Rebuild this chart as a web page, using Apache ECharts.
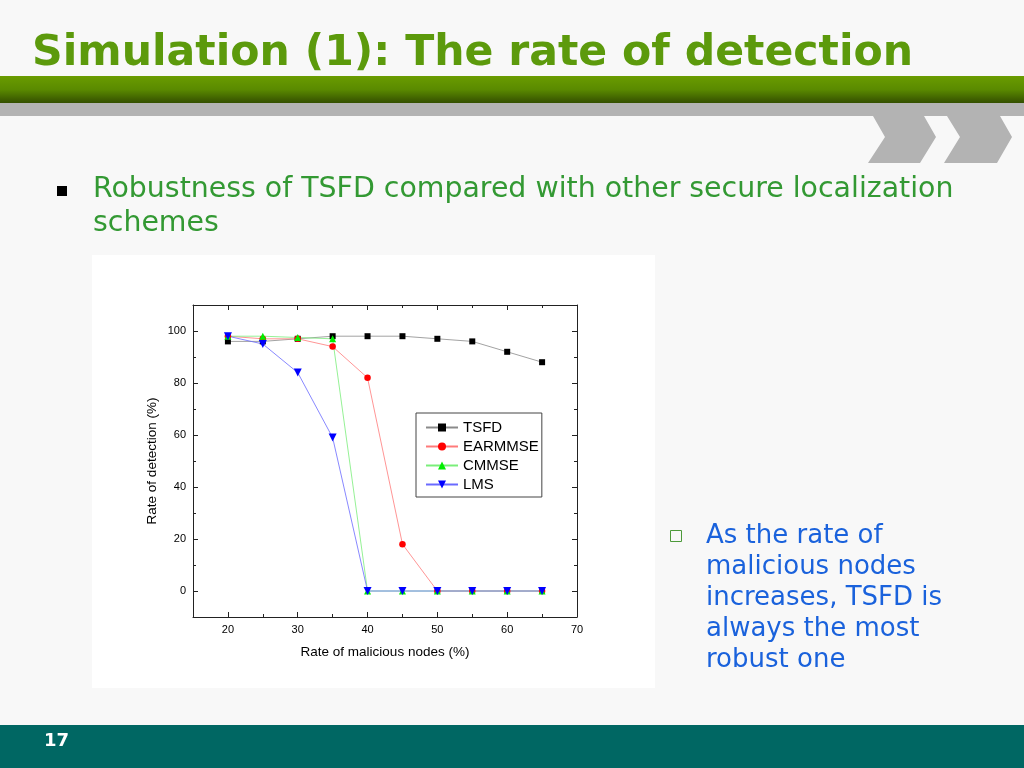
<!DOCTYPE html>
<html><head><meta charset="utf-8">
<script src="https://cdn.jsdelivr.net/npm/echarts@6/dist/echarts.min.js"></script>
<style>html,body{margin:0;padding:0;background:#f8f8f8;}#c{width:1024px;height:768px;}</style>
</head><body><div id="c"></div>
<script>
const xValues = [20, 25, 30, 35, 40, 45, 50, 55, 60, 65];
const tsfd    = [96, 96, 97, 98, 98, 98, 97, 96, 92, 88];
const earmmse = [98, 97, 97, 94, 82, 18, 0, 0, 0, 0];
const cmmse   = [98, 98, 97.5, 97, 0, 0, 0, 0, 0, 0];
const lms     = [98, 95, 84, 59, 0, 0, 0, 0, 0, 0];
const xMajor = [20, 30, 40, 50, 60, 70];
const xMinor = [25, 35, 45, 55, 65];
const yMajor = [0, 20, 40, 60, 80, 100];
const yMinor = [10, 30, 50, 70, 90];
const titleText = 'Simulation (1): The rate of detection';
const bullet1 = ['Robustness of TSFD compared with other secure localization', 'schemes'];
const bullet2 = ['As the rate of', 'malicious nodes', 'increases, TSFD is', 'always the most', 'robust one'];

const pair = (ys) => xValues.map((x, i) => [x, ys[i]]);
const chart = echarts.init(document.getElementById('c'));
const axisFont = { fontFamily: 'Liberation Sans', fontSize: 11, color: '#000' };
const lineC = '#222';

function xAx(pos, ticks, len, showLine, showLabel) {
  return {
    type: 'value', position: pos, min: 15, max: 70, interval: 5,
    axisLine: { show: showLine, onZero: false, lineStyle: { color: lineC, width: 1 } },
    axisTick: { show: true, inside: true, length: len, customValues: ticks, lineStyle: { color: lineC } },
    axisLabel: { show: showLabel, customValues: xMajor, margin: 7, ...axisFont },
    splitLine: { show: false },
    name: showLabel ? 'Rate of malicious nodes (%)' : '', nameLocation: 'middle', nameGap: 28,
    nameTextStyle: { fontFamily: 'Liberation Sans', fontSize: 13.5, color: '#000' }
  };
}
function yAx(pos, ticks, len, showLine, showLabel) {
  return {
    type: 'value', position: pos, min: -10, max: 110, interval: 10,
    axisLine: { show: showLine, onZero: false, lineStyle: { color: lineC, width: 1 } },
    axisTick: { show: true, inside: true, length: len, customValues: ticks, lineStyle: { color: lineC } },
    axisLabel: { show: showLabel, customValues: yMajor, margin: 7, ...axisFont },
    splitLine: { show: false },
    name: showLabel ? 'Rate of detection (%)' : '', nameLocation: 'middle', nameGap: 34,
    nameTextStyle: { fontFamily: 'Liberation Sans', fontSize: 13.5, color: '#000' }
  };
}

const mkSeries = (name, data, lineColor, markColor, symbol, size) => ({
  name, type: 'line', data: pair(data), xAxisIndex: 0, yAxisIndex: 0,
  symbol, symbolSize: size, showAllSymbol: true,
  lineStyle: { color: lineColor, width: 0.8 },
  itemStyle: { color: markColor, borderWidth: 0 },
  animation: false
});

chart.setOption({
  animation: false,
  backgroundColor: '#f8f8f8',
  graphic: [
    { type: 'rect', z: -10, shape: { x: 92, y: 255, width: 563, height: 433 }, style: { fill: '#ffffff' } },
    { type: 'rect', z: -10, shape: { x: 0, y: 76, width: 1024, height: 27 },
      style: { fill: new echarts.graphic.LinearGradient(0, 0, 0, 1, [
        { offset: 0, color: '#6a9c00' }, { offset: 0.5, color: '#5a8a00' }, { offset: 1, color: '#344f00' }]) } },
    { type: 'rect', z: -10, shape: { x: 0, y: 103, width: 1024, height: 13 }, style: { fill: '#b3b3b3' } },
    { type: 'polygon', z: -10, shape: { points: [[873,116],[924,116],[936,137],[920,163],[868,163],[885,137]] }, style: { fill: '#b3b3b3' } },
    { type: 'polygon', z: -10, shape: { points: [[947,116],[1000,116],[1012,137],[997,163],[944,163],[960,137]] }, style: { fill: '#b3b3b3' } },
    { type: 'rect', z: -10, shape: { x: 0, y: 725, width: 1024, height: 43 }, style: { fill: '#006763' } },
    { type: 'text', z: 10, style: { text: titleText, x: 32, y: 54, fill: '#5c9a0c',
      font: 'bold 42.6px "DejaVu Sans"', textVerticalAlign: 'middle' } },
    { type: 'rect', z: 10, shape: { x: 57, y: 186, width: 10, height: 10 }, style: { fill: '#000' } },
    { type: 'text', z: 10, style: { text: bullet1[0], x: 93, y: 190, fill: '#339933',
      font: '28.4px "DejaVu Sans"', textVerticalAlign: 'middle' } },
    { type: 'text', z: 10, style: { text: bullet1[1], x: 93, y: 224, fill: '#339933',
      font: '28.4px "DejaVu Sans"', textVerticalAlign: 'middle' } },
    { type: 'rect', z: 10, shape: { x: 670.5, y: 530.5, width: 11, height: 11 }, style: { fill: 'none', stroke: '#4d9a3a', lineWidth: 1 } },
    ...bullet2.map((t, i) => ({ type: 'text', z: 10, style: { text: t, x: 706, y: 536 + i * 31, fill: '#1a62dc',
      font: '26px "DejaVu Sans"', textVerticalAlign: 'middle' } })),
    { type: 'text', z: 10, style: { text: '17', x: 44, y: 741, fill: '#ffffff',
      font: 'bold 18px "DejaVu Sans"', textVerticalAlign: 'middle' } }
  ],
  grid: { left: 193, right: 447, top: 305, bottom: 151, containLabel: false },
  xAxis: [
    xAx('bottom', xMajor, 5, true, true),
    xAx('bottom', xMinor, 3, false, false),
    xAx('top', xMajor, 5, true, false),
    xAx('top', xMinor, 3, false, false)
  ],
  yAxis: [
    yAx('left', yMajor, 5, true, true),
    yAx('left', yMinor, 3, false, false),
    yAx('right', yMajor, 5, true, false),
    yAx('right', yMinor, 3, false, false)
  ],
  legend: {
    orient: 'vertical', left: 416, top: 413,
    backgroundColor: '#fff', borderColor: '#444', borderWidth: 1,
    padding: [7, 3, 5, 9], itemWidth: 32, itemHeight: 10, itemGap: 4,
    textStyle: { fontFamily: 'Liberation Sans', fontSize: 15, color: '#000', lineHeight: 15 },
    data: ['TSFD', 'EARMMSE', 'CMMSE', 'LMS']
  },
  series: [
    mkSeries('TSFD', tsfd, '#8a8a8a', '#000000', 'rect', 6),
    mkSeries('EARMMSE', earmmse, '#ff7a7a', '#ff0000', 'circle', 6.5),
    mkSeries('CMMSE', cmmse, '#7aee7a', '#00ee00', 'triangle', 7),
    mkSeries('LMS', lms, '#6a6aff', '#0000ff', 'path://M0,0 L10,0 L5,9 Z', 8)
  ]
});
</script></body></html>
